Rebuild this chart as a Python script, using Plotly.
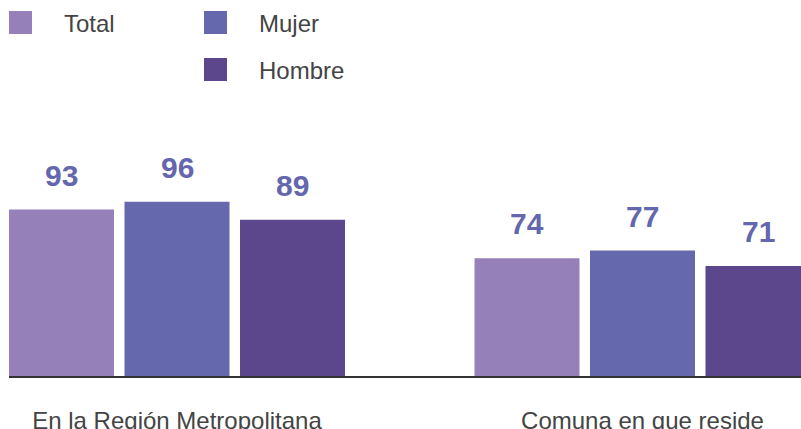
import plotly.graph_objects as go

# Chart data
categories = ["En la Región Metropolitana", "Comuna en que reside"]
series_names = ["Total", "Mujer", "Hombre"]
total = [93, 74]
mujer = [96, 77]
hombre = [89, 71]

# Styles
colors = ["#9580B9", "#6568AC", "#5C468C"]
label_color = "#6467AD"
text_color = "#444444"
font_family = "Liberation Sans, Arial, Helvetica, sans-serif"

W, H = 801, 429
M_BOTTOM = 53
PLOT_H = H - M_BOTTOM


def px_x(px):
    # pixel column -> paper x
    return px / W


def px_y(py):
    # pixel row -> paper y (plot area spans the top of the page)
    return (PLOT_H - py) / PLOT_H


fig = go.Figure()
for name, vals, col in zip(series_names, [total, mujer, hombre], colors):
    fig.add_trace(go.Bar(x=categories, y=vals, name=name, marker_color=col,
                         marker_line_width=0, showlegend=False))

# Value labels above each bar
slot_px = 115.5
for i, vals in enumerate([total, mujer, hombre]):
    for cat, v in zip(categories, vals):
        fig.add_annotation(x=cat, y=v, text="<b>%d</b>" % v, showarrow=False,
                           xref="x", yref="y", yanchor="bottom",
                           xshift=(i - 1) * slot_px, yshift=16,
                           font=dict(size=30, color=label_color, family=font_family))

# Hand drawn legend (big squares)
legend_pos = [(9, 11), (204, 11), (204, 58)]
sq = 23
for name, col, (lx, ly) in zip(series_names, colors, legend_pos):
    fig.add_shape(type="rect", xref="paper", yref="paper",
                  x0=px_x(lx), x1=px_x(lx + sq), y0=px_y(ly + sq), y1=px_y(ly),
                  fillcolor=col, line_width=0)
    fig.add_annotation(x=px_x(lx + 53), y=px_y(ly + sq / 2 + 0.5), xref="paper", yref="paper",
                       text=name, showarrow=False, xanchor="left", yanchor="middle",
                       font=dict(size=24, color=text_color, family=font_family))

fig.update_layout(
    width=W, height=H,
    margin=dict(l=0, r=0, t=0, b=M_BOTTOM),
    paper_bgcolor="white", plot_bgcolor="white",
    barmode="group", bargap=0.2557, bargroupgap=0.0909,
    font=dict(family=font_family, color=text_color),
)
fig.update_xaxes(domain=[px_x(9), 1], range=[-0.3609, 1.3405], automargin=False,
                 showline=True, linecolor="#333333", linewidth=1.5, layer="below traces",
                 ticks="outside", ticklen=22, tickcolor="rgba(0,0,0,0)",
                 tickfont=dict(size=24, color=text_color, family=font_family),
                 showgrid=False, zeroline=False)
fig.update_yaxes(range=[28.1, 174.7], visible=False, showgrid=False, zeroline=False,
                 automargin=False)

# page body has a default 8px margin, drop it so the figure sits at the corner
fig.write_html("out.html", config={"displayModeBar": False},
               post_script="document.body.style.margin='0';")
